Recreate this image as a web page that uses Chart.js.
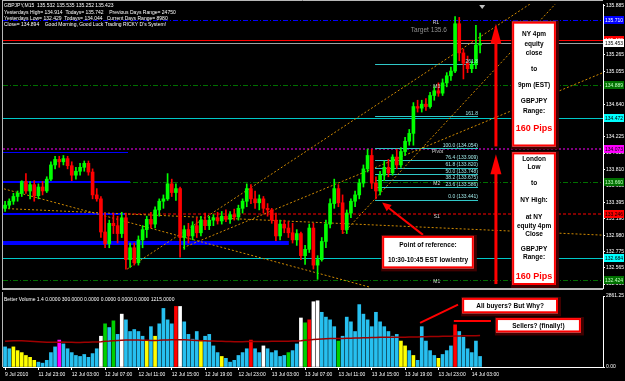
<!DOCTYPE html>
<html>
<head>
<meta charset="utf-8">
<script src="https://cdn.jsdelivr.net/npm/chart.js@4.4.1/dist/chart.umd.min.js"></script>
<style>
html, body { margin: 0; padding: 0; background: #000; overflow: hidden; }
#wrap { position: relative; width: 625px; height: 381px; }
canvas { position: absolute; left: 0; display: block; }
#price { top: 0; }
#vol { top: 292px; }
</style>
</head>
<body>
<div id="wrap">
  <canvas id="price" width="625" height="292"></canvas>
  <canvas id="vol" width="625" height="89"></canvas>
</div>
<script>
// GBPJPY, 30 min bars
const opens = [133.32,133.36,133.41,133.47,133.51,133.66,133.54,133.62,133.48,133.59,
  133.54,133.69,133.87,133.94,133.91,133.95,133.86,133.74,133.79,133.84,
  133.89,133.78,133.49,133.44,133.02,132.87,133.13,133.10,133.00,133.20,
  132.67,132.82,132.63,132.92,133.05,133.18,133.12,133.30,133.41,133.44,
  133.63,133.52,133.57,132.95,133.05,132.97,133.10,133.01,133.17,133.10,
  133.17,133.20,133.16,133.22,133.18,133.24,133.21,133.32,133.41,133.57,
  133.44,133.39,133.44,133.32,133.30,133.17,132.97,133.12,133.07,133.01,
  132.92,133.00,132.72,132.80,133.07,132.60,132.67,132.90,133.12,133.38,
  133.57,133.39,133.05,133.26,133.41,133.49,133.64,133.82,133.99,133.64,
  133.54,133.74,133.84,133.77,133.97,133.87,134.04,134.17,134.27,134.61,
  134.59,134.64,134.61,134.75,134.81,134.78,134.91,135.00,135.06,135.66,
  135.29,135.16,135.09,135.14,135.39];
const highs = [133.41,133.44,133.51,133.54,133.67,133.76,133.66,133.67,133.63,133.66,
  133.72,133.91,133.98,133.98,133.99,133.98,133.91,133.84,133.89,133.92,
  133.92,133.82,133.57,133.47,133.26,133.17,133.26,133.22,133.27,133.26,
  132.88,132.88,132.97,133.10,133.22,133.27,133.34,133.44,133.49,133.76,
  133.69,133.63,133.59,133.10,133.13,133.15,133.20,133.22,133.26,133.22,
  133.24,133.27,133.28,133.30,133.28,133.31,133.36,133.44,133.63,133.62,
  133.54,133.49,133.47,133.38,133.32,133.26,133.17,133.17,133.15,133.13,
  133.05,133.02,132.85,133.12,133.13,132.72,132.95,133.17,133.44,133.69,
  133.62,133.49,133.30,133.44,133.54,133.69,133.87,134.07,134.07,133.72,
  133.79,133.92,133.94,134.00,134.07,134.09,134.22,134.32,134.66,134.69,
  134.69,134.71,134.79,134.86,134.91,134.96,135.04,135.11,135.75,135.74,
  135.34,135.25,135.19,135.64,135.54];
const lows = [133.28,133.32,133.37,133.41,133.47,133.51,133.44,133.41,133.44,133.49,
  133.52,133.67,133.82,133.84,133.87,133.82,133.67,133.69,133.74,133.79,
  133.74,133.44,133.41,132.95,132.82,132.82,133.00,132.88,132.95,132.55,
  132.57,132.60,132.60,132.82,132.95,133.07,133.07,133.22,133.32,133.42,
  133.47,133.42,132.70,132.80,132.88,132.92,132.95,132.97,133.05,133.05,
  133.10,133.12,133.12,133.15,133.13,133.17,133.17,133.26,133.34,133.38,
  133.32,133.30,133.26,133.22,133.13,132.91,132.92,133.01,132.95,132.88,
  132.85,132.67,132.61,132.76,132.55,132.42,132.65,132.82,133.07,133.32,
  133.34,133.00,133.00,133.20,133.34,133.44,133.59,133.78,133.57,133.44,
  133.49,133.67,133.72,133.74,133.82,133.84,133.99,134.12,134.12,134.54,
  134.54,134.56,134.59,134.69,134.74,134.75,134.86,134.94,135.04,135.19,
  134.96,135.04,135.04,135.09,135.29];
const closes = [133.36,133.41,133.47,133.51,133.66,133.54,133.62,133.48,133.59,133.54,
  133.69,133.87,133.94,133.91,133.95,133.86,133.74,133.79,133.84,133.89,
  133.78,133.49,133.44,133.02,132.87,133.13,133.10,133.00,133.20,132.67,
  132.82,132.63,132.92,133.05,133.18,133.12,133.30,133.41,133.44,133.63,
  133.52,133.57,132.95,133.05,132.97,133.10,133.01,133.17,133.10,133.17,
  133.20,133.16,133.22,133.18,133.24,133.21,133.32,133.41,133.57,133.44,
  133.39,133.44,133.32,133.30,133.17,132.97,133.12,133.07,133.01,132.92,
  133.00,132.72,132.80,133.07,132.60,132.67,132.90,133.12,133.38,133.57,
  133.39,133.05,133.26,133.41,133.49,133.64,133.82,133.99,133.64,133.54,
  133.74,133.84,133.77,133.97,133.87,134.04,134.17,134.27,134.61,134.59,
  134.64,134.61,134.75,134.81,134.78,134.91,135.00,135.06,135.66,135.29,
  135.16,135.09,135.14,135.39,135.41];

// Better Volume 1.4
const volume = [810,735,810,660,580,465,390,270,195,155,
  270,580,810,1085,930,735,580,465,425,505,
  390,540,735,1240,1740,1590,1860,1315,2130,1900,
  1430,1510,1430,1240,1045,1625,1240,1740,2360,1900,
  1740,2440,2440,1820,1315,1120,1430,1045,1240,1315,
  850,580,425,350,195,270,465,580,735,1085,
  735,580,850,735,580,660,425,465,580,660,
  930,1975,1780,1900,2630,2670,2205,2010,1900,1625,
  1045,1240,2010,1820,1430,2515,2130,1900,1625,2205,
  1820,1625,1430,1240,1315,1045,850,660,465,270,
  1625,1045,660,465,350,505,660,850,1700,1430,
  1200,735,580,1045,425];
const volKind = ('bbyyyyyybb' + 'bbbmbbbbbb' + 'bbbwgbgbwb' + 'bbbbybybbb' + 'brwbbbbybb' +
  'bbybbbbbbr' + 'bbwbbbbbgb' + 'bwgrwwbbbb' + 'gbbbbbbbbb' + 'bbbbbyybyb' + 'bbbbybbbrb' + 'bbbbb').split('');
const volMA = [1040,1050,1060,1060,1055,1050,1040,1030,1020,1010,1000,1000,
  995,1000,1005,1000,995,990,990,995,1000,1005,1010,1020,
  1035,1045,1060,1070,1080,1085,1090,1090,1085,1080,1075,1070,
  1070,1075,1085,1090,1095,1100,1100,1095,1090,1080,1070,1060,
  1055,1050,1045,1040,1035,1030,1025,1020,1020,1020,1025,1030,
  1030,1030,1030,1030,1035,1035,1040,1040,1040,1045,1050,1060,
  1075,1090,1105,1120,1130,1140,1145,1150,1150,1150,1155,1160,
  1165,1170,1175,1180,1185,1190,1195,1200,1200,1200,1200,1200,
  1200,1205,1205,1210,1215,1220,1225,1230,1230,1235,1240,1240,
  1245,1250,1255,1255,1260,1260,1265];

const tickLabels = ['9 Jul 2010','11 Jul 23:00','12 Jul 03:00','12 Jul 07:00','12 Jul 11:00','12 Jul 15:00',
  '12 Jul 19:00','12 Jul 23:00','13 Jul 03:00','13 Jul 07:00','13 Jul 11:00','13 Jul 15:00',
  '13 Jul 19:00','13 Jul 23:00','14 Jul 03:00'];
const BARS_PER_TICK = 8;
const SLOTS = 144;
const priceTicks = [135.885,135.675,135.470,135.265,135.055,134.850,134.640,134.435,134.225,
  134.020,133.810,133.605,133.395,133.190,132.980,132.775,132.565,132.360];
const volTicks = [0, 2861.25];

// horizontal levels (pivots, bid, etc.)
const levels = [
  { price: 135.705, color: '#0000ff', width: 1, dash: [5,2,1,2], tag: '135.710', bg: '#0000ff', fg: '#ffffff' },
  { price: 135.449, color: '#ff0000', width: 1, dash: [], tag: '135.482', bg: '#ff0000', fg: '#ffffff' },
  { price: 135.412, color: '#a0a0a0', width: 1, dash: [], tag: '135.453', bg: '#ffffff', fg: '#000000' },
  { price: 134.889, color: '#007000', width: 1, dash: [5,2,1,2], tag: '134.889', bg: '#007000', fg: '#c0ffc0' },
  { price: 134.465, color: '#00c8c8', width: 1, dash: [], tag: '134.472', bg: '#00ffff', fg: '#000000' },
  { price: 134.067, color: '#800080', width: 2, dash: [2,2], tag: '134.073', bg: '#ff00ff', fg: '#000000' },
  { price: 133.656, color: '#007000', width: 1, dash: [5,2,1,2], tag: '133.660', bg: '#007000', fg: '#c0ffc0' },
  { price: 133.245, color: '#800000', width: 2, dash: [3,2], tag: '133.246', bg: '#ff0000', fg: '#000000' },
  { price: 132.684, color: '#00c8c8', width: 1, dash: [], tag: '132.684', bg: '#00ffff', fg: '#000000' },
  { price: 132.410, color: '#007000', width: 1, dash: [5,2,1,2], tag: '132.424', bg: '#007000', fg: '#c0ffc0' }
];
const leftLines = [
  { price: 134.029, to: 29.5, width: 1 },
  { price: 133.656, to: 30.0, width: 2 },
  { price: 133.245, to: 28.8, width: 2 },
  { price: 132.883, to: 68.1, width: 4 }
];
const trendLines = [
  { i0: -1.2, p0: 133.58, i1: 87.6, p1: 132.32 },
  { i0: -1.2, p0: 133.32, i1: 143.5, p1: 132.98 },
  { i0: 29.3, p0: 132.55, i1: 126.7, p1: 135.935 },
  { i0: 42.7, p0: 132.82, i1: 143.5, p1: 135.04 },
  { i0: 81.1, p0: 133.00, i1: 132.5, p1: 135.935 }
];
const fibLow = 133.431, fibHigh = 134.088, fibFrom = 88.8, fibTo = 113.5;
const fibRatios = [0, 23.6, 38.2, 50, 61.8, 76.4, 100, 161.8, 261.8];
const fibText = ['0.0 (133.441)','23.6 (133.586)','38.2 (133.675)','50.0 (133.748)','61.8 (133.820)',
  '76.4 (133.909)','100.0 (134.054)','161.8','261.8'];
const levelNames = [
  { t: 'R1', i: 103.4, p: 135.705 }, { t: 'M3', i: 103.6, p: 134.889 }, { t: 'Pivot', i: 103.8, p: 134.067 },
  { t: 'M2', i: 103.6, p: 133.656 }, { t: 'S1', i: 103.6, p: 133.245 }, { t: 'M1', i: 103.6, p: 132.410 }
];

const priceBoxes = [
  { i0: 121.7, i1: 132.2, p0: 135.686, p1: 134.104,
    lines: [['NY 4pm',13],['equity',23],['close',32],['to',48],['9pm (EST)',64],['GBPJPY',80],['Range:',90],['160 Pips',107,true]] },
  { i0: 121.7, i1: 132.2, p0: 134.029, p1: 132.348,
    lines: [['London',7],['Low',15],['to',31],['NY High:',48],['at NY',65],['equity 4pm',74],['Close',82],['GBPJPY',97],['Range:',105],['160 Pips',124,true]] },
  { i0: 90.5, i1: 112.5, p0: 132.970, p1: 132.559,
    lines: [['Point of reference:',9],['10:30-10:45 EST low/entry',24]] }
];
const bigArrows = [
  { i: 117.8, from: 134.104, to: 135.661 },
  { i: 117.8, from: 132.360, to: 134.004 }
];
const pointer = { i0: 100.3, p0: 132.983, i1: 90.5, p1: 133.394 };

const volBoxes = [
  { i0: 109.7, i1: 132.7, v0: 2784, v1: 2165, text: 'All buyers? But Why?' },
  { i0: 117.8, i1: 138.2, v0: 1972, v1: 1392, text: 'Sellers? (finally!)' }
];
const volLines = [
  { i0: 99.6, v0: 1778, i1: 108.7, v1: 2513 },
  { i0: 107.7, v0: 1856, i1: 116.6, v1: 1856 }
];

const infoLines = [
  'GBPJPY,M15  135.532 135.535 135.252 135.423',
  'Yesterdays High= 134.914  Todays= 135.742    Previous Days Range= 24750',
  'Yesterdays Low= 132.429  Todays= 134.044   Current Days Range= 8980',
  'Close= 134.894    Good Morning, Good Luck Trading RICKY D\'s System!'
];

const FONT = "'Liberation Sans', Arial, sans-serif";
const SMALL = 5;
const categories = Array.from({ length: SLOTS }, (_, i) => String(i));
const candleColor = closes.map((c, i) => c >= opens[i] ? '#00ff00' : '#ff0000');
const kindColor = { b: '#27c0f0', y: '#ffff00', w: '#ffffff', r: '#ff0000', g: '#00d000', m: '#ff00ff' };

const hline = (ctx, x0, x1, py, color, width, dash) => {
    const yy = width % 2 ? Math.round(py) + 0.5 : Math.round(py);
    ctx.strokeStyle = color;
    ctx.lineWidth = width;
    ctx.setLineDash(dash);
    ctx.beginPath();
    ctx.moveTo(x0, yy);
    ctx.lineTo(x1, yy);
    ctx.stroke();
};

const drawBox = (ctx, l, t, r, b) => {
    ctx.setLineDash([]);
    ctx.fillStyle = '#400000';
    ctx.fillRect(l - 1, t - 1, r - l + 4, b - t + 4);
    ctx.fillStyle = '#ffffff';
    ctx.fillRect(l, t, r - l, b - t);
    ctx.strokeStyle = '#ff0000';
    ctx.lineWidth = 2;
    ctx.strokeRect(l + 1, t + 1, r - l - 2, b - t - 2);
};

const arrowHead = (ctx, x0, y0, x1, y1, len, half) => {
    const a = Math.atan2(y1 - y0, x1 - x0);
    ctx.beginPath();
    ctx.moveTo(x1, y1);
    ctx.lineTo(x1 - len * Math.cos(a) + half * Math.sin(a), y1 - len * Math.sin(a) - half * Math.cos(a));
    ctx.lineTo(x1 - len * Math.cos(a) - half * Math.sin(a), y1 - len * Math.sin(a) + half * Math.cos(a));
    ctx.closePath();
    ctx.fill();
};

const priceDecor = {
    id: 'priceDecor',
    beforeDatasetsDraw(chart) {
        const { ctx, chartArea: a, scales: { x, y } } = chart;
        ctx.save();
        ctx.beginPath();
        ctx.rect(a.left, a.top, a.right - a.left, a.bottom - a.top);
        ctx.clip();
        levels.forEach(l => hline(ctx, a.left, a.right, y.getPixelForValue(l.price), l.color, l.width, l.dash));
        leftLines.forEach(l => hline(ctx, a.left, x.getPixelForValue(l.to), y.getPixelForValue(l.price), '#0000ff', l.width, []));
        fibRatios.forEach(r => {
            const p = fibLow + (fibHigh - fibLow) * r / 100;
            hline(ctx, x.getPixelForValue(fibFrom), x.getPixelForValue(fibTo), y.getPixelForValue(p), '#30c8c8', 1, []);
        });
        ctx.strokeStyle = '#d08a00';
        ctx.lineWidth = 1;
        ctx.setLineDash([2, 2]);
        trendLines.forEach(t => {
            ctx.beginPath();
            ctx.moveTo(x.getPixelForValue(t.i0), y.getPixelForValue(t.p0));
            ctx.lineTo(x.getPixelForValue(t.i1), y.getPixelForValue(t.p1));
            ctx.stroke();
        });
        ctx.restore();
    },
    afterDatasetsDraw(chart) {
        const { ctx, chartArea: a, scales: { x, y } } = chart;
        ctx.save();
        ctx.textBaseline = 'middle';

        // level names and target
        ctx.font = `${SMALL}px ${FONT}`;
        ctx.fillStyle = '#d0d0d0';
        ctx.textAlign = 'center';
        levelNames.forEach(n => ctx.fillText(n.t, x.getPixelForValue(n.i), y.getPixelForValue(n.p) + 2));
        ctx.font = `6.5px ${FONT}`;
        ctx.fillStyle = '#909090';
        ctx.fillText('Target 135.6', x.getPixelForValue(101.7), y.getPixelForValue(135.574));

        // fib labels
        ctx.font = `${SMALL}px ${FONT}`;
        ctx.fillStyle = '#a0e8e8';
        ctx.textAlign = 'right';
        ctx.textBaseline = 'bottom';
        fibRatios.forEach((r, k) => {
            const p = fibLow + (fibHigh - fibLow) * r / 100;
            ctx.fillText(fibText[k], x.getPixelForValue(fibTo), y.getPixelForValue(p));
        });

        // info text
        ctx.textAlign = 'left';
        ctx.textBaseline = 'middle';
        ctx.fillStyle = '#ffffff';
        infoLines.forEach((t, k) => ctx.fillText(t, 4, 6 + k * 6.2));

        // marker at top
        const mx = x.getPixelForValue(114.5);
        ctx.fillStyle = '#c0c0c0';
        ctx.beginPath();
        ctx.moveTo(mx - 3, a.top + 1);
        ctx.lineTo(mx + 3, a.top + 1);
        ctx.lineTo(mx, a.top + 5);
        ctx.fill();

        // red arrows
        ctx.fillStyle = '#ff0000';
        ctx.strokeStyle = '#ff0000';
        ctx.setLineDash([]);
        bigArrows.forEach(ar => {
            const ax = x.getPixelForValue(ar.i);
            const y0 = y.getPixelForValue(ar.from), y1 = y.getPixelForValue(ar.to);
            ctx.lineWidth = 3;
            ctx.beginPath();
            ctx.moveTo(ax, y0);
            ctx.lineTo(ax, y1 + 14);
            ctx.stroke();
            arrowHead(ctx, ax, y0, ax, y1, 20, 5.5);
        });
        const px0 = x.getPixelForValue(pointer.i0), py0 = y.getPixelForValue(pointer.p0);
        const px1 = x.getPixelForValue(pointer.i1), py1 = y.getPixelForValue(pointer.p1);
        ctx.lineWidth = 2;
        ctx.beginPath();
        ctx.moveTo(px0, py0);
        ctx.lineTo(px1 + 4, py1 + 3.5);
        ctx.stroke();
        arrowHead(ctx, px0, py0, px1, py1, 9, 4);

        // text boxes
        priceBoxes.forEach(bx => {
            const l = x.getPixelForValue(bx.i0), r = x.getPixelForValue(bx.i1);
            const t = y.getPixelForValue(bx.p0), b = y.getPixelForValue(bx.p1);
            drawBox(ctx, l, t, r, b);
            ctx.textAlign = 'center';
            bx.lines.forEach(([txt, off, red]) => {
                ctx.font = red ? `bold 9px ${FONT}` : `bold 6.5px ${FONT}`;
                ctx.fillStyle = red ? '#ff0000' : '#000000';
                ctx.fillText(txt, (l + r) / 2, t + off);
            });
        });
        ctx.restore();
    },
    afterDraw(chart) {
        const { ctx, chartArea: a, scales: { y } } = chart;
        ctx.save();
        ctx.font = `${SMALL}px ${FONT}`;
        ctx.textBaseline = 'middle';
        ctx.textAlign = 'left';
        levels.forEach(l => {
            const py = Math.round(y.getPixelForValue(l.price));
            ctx.fillStyle = l.bg;
            ctx.fillRect(a.right + 1, py - 4, 20, 8);
            ctx.fillStyle = l.fg;
            ctx.fillText(l.tag, a.right + 2, py + 0.5);
        });
        ctx.strokeStyle = '#b8b8b8';
        ctx.lineWidth = 1;
        ctx.beginPath();
        ctx.moveTo(2.5, 0);
        ctx.lineTo(2.5, a.bottom);
        ctx.moveTo(2, 0.5);
        ctx.lineTo(a.right, 0.5);
        ctx.stroke();
        ctx.lineWidth = 2;
        ctx.beginPath();
        ctx.moveTo(2, a.bottom + 1);
        ctx.lineTo(a.right, a.bottom + 1);
        ctx.stroke();
        ctx.restore();
    }
};

const volDecor = {
    id: 'volDecor',
    afterDatasetsDraw(chart) {
        const { ctx, chartArea: a, scales: { x, y } } = chart;
        ctx.save();
        ctx.font = `${SMALL}px ${FONT}`;
        ctx.fillStyle = '#ffffff';
        ctx.textBaseline = 'middle';
        ctx.fillText('Better Volume 1.4 0.0000 300.0000 0.0000 0.0000 0.0000 0.0000 1215.0000', 4, a.top + 4);

        ctx.strokeStyle = '#ff0000';
        ctx.lineWidth = 2;
        ctx.setLineDash([]);
        volLines.forEach(v => {
            ctx.beginPath();
            ctx.moveTo(x.getPixelForValue(v.i0), y.getPixelForValue(v.v0));
            ctx.lineTo(x.getPixelForValue(v.i1), y.getPixelForValue(v.v1));
            ctx.stroke();
        });
        volBoxes.forEach(bx => {
            const l = x.getPixelForValue(bx.i0), r = x.getPixelForValue(bx.i1);
            const t = y.getPixelForValue(bx.v0), b = y.getPixelForValue(bx.v1);
            drawBox(ctx, l, t, r, b);
            ctx.font = `bold 6.5px ${FONT}`;
            ctx.fillStyle = '#000000';
            ctx.textAlign = 'center';
            ctx.fillText(bx.text, (l + r) / 2, (t + b) / 2 + 0.5);
        });

        ctx.strokeStyle = '#b8b8b8';
        ctx.lineWidth = 1;
        ctx.beginPath();
        ctx.moveTo(2.5, 0);
        ctx.lineTo(2.5, a.bottom);
        ctx.stroke();
        ctx.restore();
    }
};

const baseOptions = {
    responsive: false,
    animation: false,
    devicePixelRatio: 1,
    events: [],
    plugins: { legend: { display: false }, tooltip: { enabled: false } }
};

new Chart(document.getElementById('price'), {
    type: 'bar',
    data: {
        labels: categories,
        datasets: [
            { data: lows.map((l, i) => [l, highs[i]]), backgroundColor: candleColor, barThickness: 1, grouped: false, order: 2 },
            { data: opens.map((o, i) => [o, closes[i]]), backgroundColor: candleColor, barThickness: 3, minBarLength: 1, grouped: false, order: 1 }
        ]
    },
    options: {
        ...baseOptions,
        layout: { padding: { left: 3, top: 2, right: 0, bottom: 1 } },
        scales: {
            x: { display: false, offset: true },
            y: {
                position: 'right',
                min: 132.310,
                max: 135.910,
                afterBuildTicks: s => { s.ticks = priceTicks.map(v => ({ value: v })); },
                afterFit: s => { s.width = 22; },
                ticks: { color: '#ffffff', font: { family: FONT, size: SMALL }, padding: 1, callback: v => v.toFixed(3) },
                grid: { drawOnChartArea: false, color: '#ffffff', tickLength: 2 },
                border: { color: '#ffffff' }
            }
        }
    },
    plugins: [priceDecor]
});

new Chart(document.getElementById('vol'), {
    type: 'bar',
    data: {
        labels: categories,
        datasets: [
            { type: 'line', data: volMA, borderColor: '#a00000', borderWidth: 1.5, pointRadius: 0, order: 0 },
            { data: volume, backgroundColor: volKind.map(k => kindColor[k]), barThickness: 3, order: 1 }
        ]
    },
    options: {
        ...baseOptions,
        layout: { padding: { left: 3, top: 1, right: 0, bottom: 0 } },
        scales: {
            x: {
                offset: true,
                afterFit: s => { s.height = 14; },
                ticks: {
                    color: '#ffffff',
                    font: { family: FONT, size: SMALL },
                    autoSkip: false,
                    maxRotation: 0,
                    align: 'start',
                    padding: 2,
                    callback: (v, i) => (i % BARS_PER_TICK === 0 && tickLabels[i / BARS_PER_TICK]) || ''
                },
                grid: {
                    offset: false,
                    drawOnChartArea: false,
                    tickLength: 3,
                    color: ctx => (ctx.index % BARS_PER_TICK === 0 && ctx.index / BARS_PER_TICK < tickLabels.length) ? '#ffffff' : 'rgba(0,0,0,0)'
                },
                border: { color: '#ffffff' }
            },
            y: {
                position: 'right',
                min: 0,
                max: 2861.25,
                afterBuildTicks: s => { s.ticks = volTicks.map(v => ({ value: v })); },
                afterFit: s => { s.width = 22; },
                ticks: { color: '#ffffff', font: { family: FONT, size: SMALL }, padding: 1, callback: v => v.toFixed(2) },
                grid: { drawOnChartArea: false, color: '#ffffff', tickLength: 2 },
                border: { color: '#ffffff' }
            }
        }
    },
    plugins: [volDecor]
});
</script>
</body>
</html>
